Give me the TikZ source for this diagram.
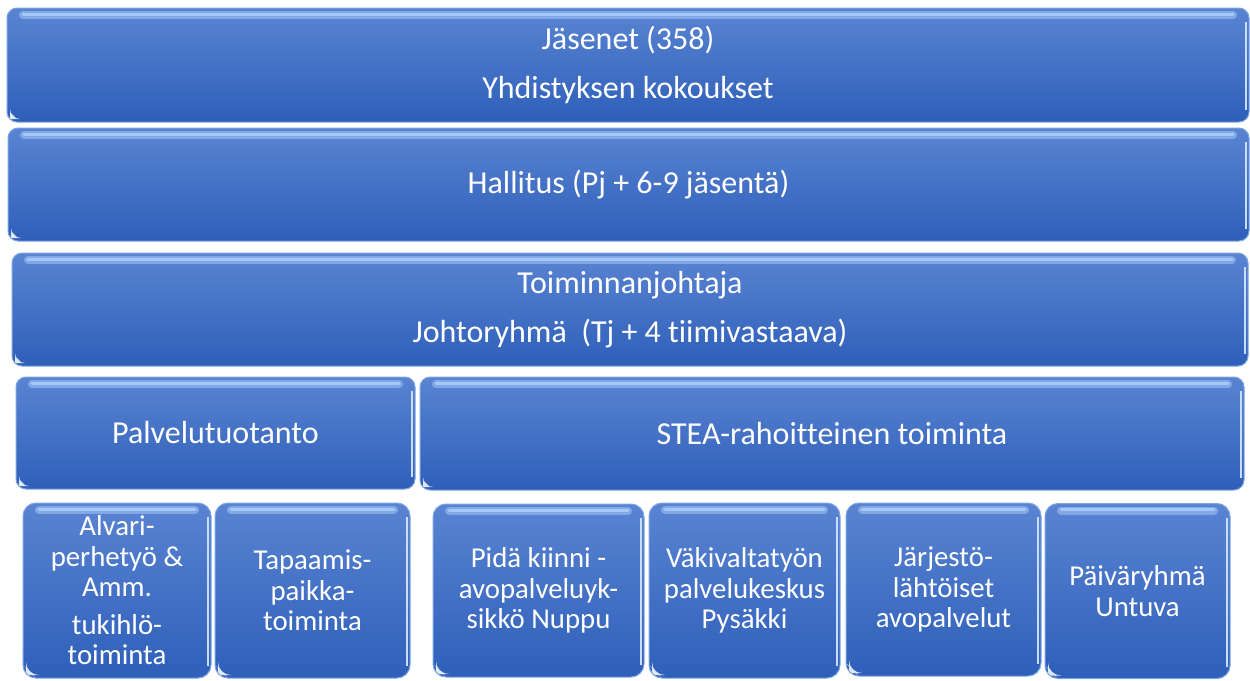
\documentclass[tikz,border=0pt]{standalone}
\usepackage{fontspec}
\setmainfont[Ligatures=NoCommon]{Carlito}
\usepackage{tikz}
\definecolor{tierTop}{RGB}{90,132,210}
\definecolor{tierBot}{RGB}{46,95,185}
\definecolor{tierEdge}{RGB}{125,165,228}
\definecolor{tierGlow}{RGB}{165,200,248}
\tikzstyle{tier}=[rounded corners=10pt, draw=tierEdge, line width=1pt,
  top color=tierTop, bottom color=tierBot, text=white, align=center,
  inner sep=0pt, font=\fontsize{32}{49.5}\selectfont,
  path picture={
    \draw[tierGlow, opacity=.55, line width=8pt, line cap=round]
      ([xshift=16pt,yshift=-7pt]path picture bounding box.north west) --
      ([xshift=-16pt,yshift=-7pt]path picture bounding box.north east);
    \draw[tierGlow, line width=3pt, line cap=round]
      ([xshift=16pt,yshift=-6pt]path picture bounding box.north west) --
      ([xshift=-16pt,yshift=-6pt]path picture bounding box.north east);
    \draw[tierGlow!60!white, line width=2pt]
      ([xshift=-3pt,yshift=-14pt]path picture bounding box.north east) --
      ([xshift=-3pt,yshift=12pt]path picture bounding box.south east);
    \fill[white, opacity=.85]
      ([xshift=3pt,yshift=3pt]path picture bounding box.south west) --
      ([xshift=10pt,yshift=3pt]path picture bounding box.south west) --
      ([xshift=3pt,yshift=10pt]path picture bounding box.south west) -- cycle;}]
\tikzstyle{unit}=[tier, rounded corners=13pt, minimum height=175pt,
  font=\fontsize{28.8}{30.5}\selectfont]

\begin{document}
\begin{tikzpicture}[x=1pt, y=-1pt]
      \useasboundingbox (0,0) rectangle (1250,680);

      \node[tier, minimum width=1242pt, minimum height=114pt] (members) at (628,65)
        {J\"asenet (358)\\Yhdistyksen kokoukset};
      \node[tier, minimum width=1241pt, minimum height=113pt] (board) at (628.5,184.5)
        {Hallitus (Pj + 6-9 j\"asent\"a)};
      \node[tier, minimum width=1236pt, minimum height=113pt] (director) at (630,309.5)
        {Toiminnanjohtaja\\Johtoryhm\"a\ \ (Tj + 4 tiimivastaava)};

      \node[tier, minimum width=399pt, minimum height=112pt] (services) at (215.5,433)
        {Palvelutuotanto};
      \node[tier, minimum width=824pt, minimum height=113pt] (stea) at (832,433.5)
        {STEA-rahoitteinen toiminta};

      \node[unit, minimum width=188pt] (alvari) at (117,590.5)
        {Alvari-\\perhety\"o \&\\Amm.\\[7pt]tukihl\"o-\\toiminta};
      \node[unit, minimum width=195pt] (meeting) at (312.5,590.5)
        {Tapaamis-\\paikka-\\toiminta};
      \node[unit, minimum width=211pt, minimum height=173pt] (nuppu) at (538.5,590.5)
        {Pid\"a kiinni -\\avopalveluyk-\\sikk\"o Nuppu};
      \node[unit, minimum width=191pt] (pysakki) at (744.5,590.5)
        {V\"akivaltaty\"on\\palvelukeskus\\Pys\"akki};
      \node[unit, minimum width=195pt, minimum height=173pt] (open) at (943.5,589.5)
        {J\"arjest\"o-\\l\"aht\"oiset\\avopalvelut};
      \node[unit, minimum width=185pt] (untuva) at (1137.5,591)
        {P\"aiv\"aryhm\"a\\Untuva};
    \end{tikzpicture}
\end{document}
